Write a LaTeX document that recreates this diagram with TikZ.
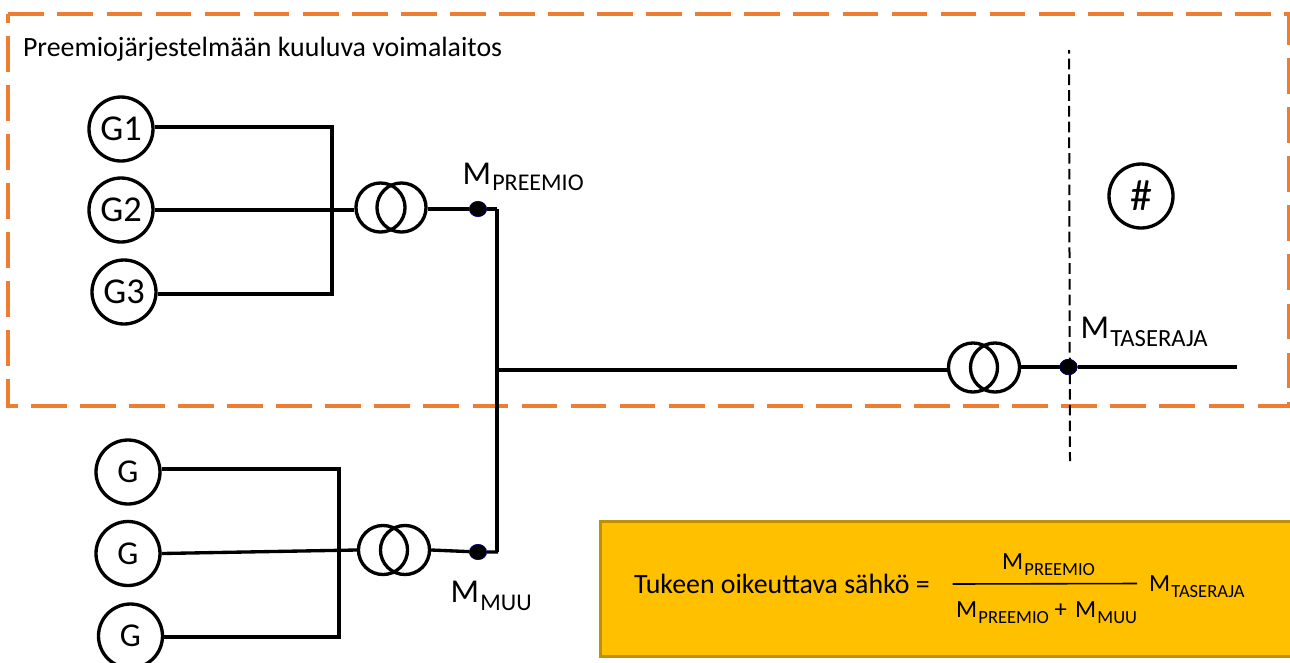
\documentclass[tikz,border=0pt]{standalone}
\usepackage{fontspec}
\setmainfont{Carlito}
\usetikzlibrary{shapes.geometric}
% big M with a raised-off subscript: size of M, size of subscript, drop of subscript, text
\newcommand{\MSub}[4]{{\fontsize{#1}{#1}\selectfont M}\kern1pt\raisebox{-#3}{\fontsize{#2}{#2}\selectfont #4}}
\tikzset{
  wire/.style={line width=2.5pt,black},
  gen/.style={circle,draw=black,line width=2.5pt,minimum size=48pt,inner sep=0pt,font=\fontsize{27.3pt}{27.3pt}\selectfont},
  genb/.style={gen,font=\fontsize{25pt}{25pt}\selectfont},
  tr/.style={circle,draw=black,line width=2.5pt,minimum size=36.8pt,inner sep=0pt},
  meter/.style={ellipse,fill=black,draw=blue!45!black,line width=0.5pt,minimum width=13pt,minimum height=11.5pt,inner sep=0pt},
  txt/.style={anchor=base west,inner sep=0pt,outer sep=0pt,text=black},
  plain/.style={txt,font=\fontsize{20.9pt}{20.9pt}\selectfont}
}
\begin{document}
\begin{tikzpicture}[x=0.75pt,y=-0.75pt]
\useasboundingbox (0,0) rectangle (1290,662);
\clip (0,0) rectangle (1290,662);
\fill[white] (0,0) rectangle (1290,662);

% premium plant boundary: clockwise from the top-left corner
\coordinate (bTL) at (8.4,14);
\coordinate (bTR) at (1289,14);
\coordinate (bBR) at (1289,406);
\coordinate (bBL) at (8.4,406);
\draw[color={rgb,255:red,237;green,125;blue,49},line width=3pt,dash pattern=on 26.8pt off 10pt]
  (bTL) -- (bTR) -- (bBR) -- (bBL) -- cycle;

\node[plain] (title) at (23,56) {Preemiojärjestelmään kuuluva voimalaitos};

% upper generators
\node[gen] (g1) at (121,129) {G1};
\node[gen] (g2) at (121,210) {G2};
\node[gen] (g3) at (124,292) {G3};
\node[tr] (t1a) at (380.5,207.5) {};
\node[tr] (t1b) at (401.5,207.5) {};
\node[meter] (mp) at (478,209) {};
\coordinate (bus1t) at (332,127);
\coordinate (bus1b) at (332,294);
\coordinate (mpc) at (497,209);
\draw[wire] (g1.east |- bus1t) -- (bus1t) -- (bus1b) -- (g3.east |- bus1b);
\draw[wire] (g2.east) -- (t1a.west |- g2.east);
\draw[wire] (t1b.east |- mp) -- (mp) -- (mpc);

% lower generators
\node[genb] (g4) at (128,472) {G};
\node[genb] (g5) at (128,553.5) {G};
\node[genb] (g6) at (130.5,636) {G};
\node[tr] (t2a) at (383,550) {};
\node[tr] (t2b) at (405,550) {};
\node[meter] (mm) at (478,552) {};
\coordinate (bus2t) at (339,469);
\coordinate (bus2b) at (339,637);
\coordinate (mmc) at (498,552);
\draw[wire] (g4.east |- bus2t) -- (bus2t) -- (bus2b) -- (g6.east |- bus2b);
\draw[wire] (g5.east) -- (t2a.west);
\draw[wire] (t2b.east) -- (mm) -- (mmc);

% collecting bus and outgoing line
\draw[wire] (mpc) -- (mmc -| mpc);
\node[tr] (t3a) at (973,367.5) {};
\node[tr] (t3b) at (995,367.5) {};
\node[meter] (mt) at (1068.5,367) {};
\coordinate (mainj) at (497,370);
\coordinate (lineend) at (1237,367);
\draw[wire] (mainj) -- (t3a.west |- mainj);
\draw[wire] (t3b.east |- mt) -- (mt) -- (lineend);

% balance boundary
\coordinate (bdT) at (1069,50);
\coordinate (bdB) at (1070,461);
\draw[line width=1.5pt,black,dash pattern=on 8pt off 3.8pt,dash phase=5.3pt] (bdT) -- (bdB);
\node[meter] at (mt) {};

\node[circle,draw=black,line width=2.5pt,minimum size=48pt,inner sep=0pt,font=\fontsize{33pt}{33pt}\selectfont] (hash) at (1141,196) {\#};

% meter labels
\node[txt] (lp) at (462.5,184) {\MSub{25pt}{18pt}{5pt}{PREEMIO}};
\node[txt] (lm) at (450.5,602) {\MSub{25pt}{18pt}{6.5pt}{MUU}};
\node[txt] (lt) at (1080.5,338) {\MSub{25pt}{18.5pt}{6.5pt}{TASERAJA}};

% formula box
\node[draw={rgb,255:red,191;green,144;blue,0},fill={rgb,255:red,255;green,192;blue,0},line width=2.6pt,
      minimum width=520pt,minimum height=101pt,inner sep=0pt,anchor=north west] (box) at (599,520) {};
\node[plain] (f0) at (634,593) {Tukeen oikeuttava sähkö =};
\coordinate (fl) at (952.5,584);
\coordinate (fr) at (1137,583.5);
\draw[line width=1.2pt,black] (fl) -- (fr);
\node[txt] (f1) at (1002,569) {\MSub{18.5pt}{13.9pt}{4.5pt}{PREEMIO}};
\node[txt] (f2) at (956,617) {\MSub{18.5pt}{13.9pt}{4.5pt}{PREEMIO}\fontsize{18.5pt}{18.5pt}\selectfont\ +\ \kern2pt\MSub{18.5pt}{13.9pt}{4.5pt}{MUU}};
\node[txt] (f3) at (1149,591) {\MSub{18.5pt}{13.9pt}{4.5pt}{TASERAJA}};
\end{tikzpicture}
\end{document}
